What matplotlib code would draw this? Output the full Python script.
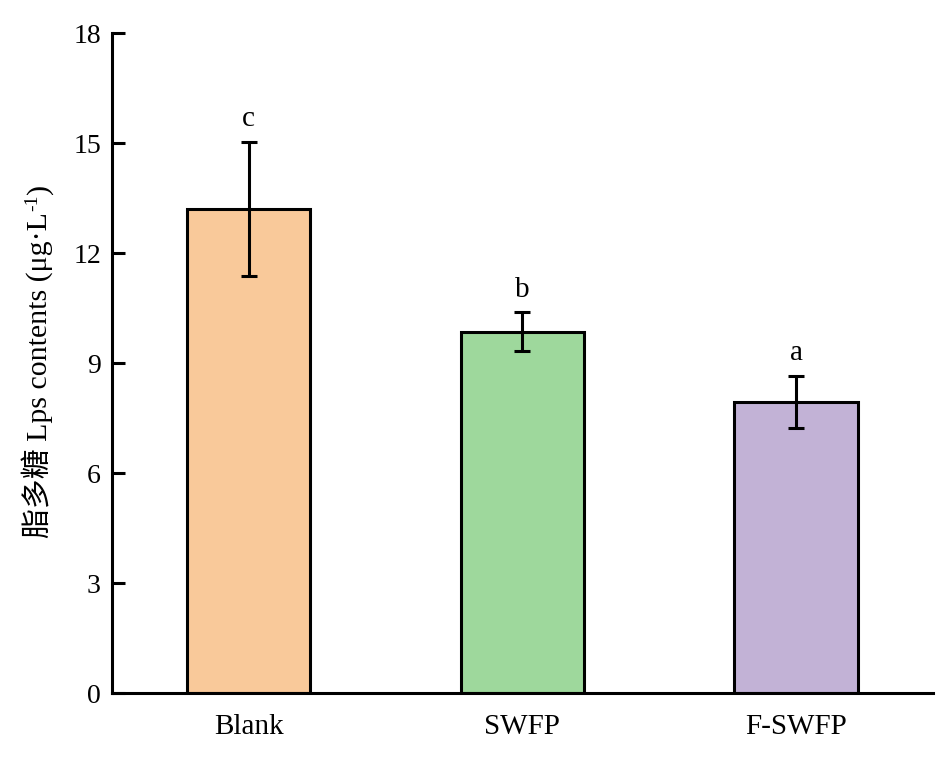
import numpy as np
import matplotlib
matplotlib.use("Agg")
import matplotlib.pyplot as plt

groups = ["Blank", "SWFP", "F-SWFP"]
means = [13.2, 9.85, 7.94]
errs = [1.83, 0.53, 0.70]
letters = ["c", "b", "a"]
colors = ["#F9C99A", "#9ED89C", "#C2B2D6"]

fonts = ['Liberation Serif', 'Noto Sans CJK SC']
plt.rcParams['font.family'] = fonts

fig = plt.figure(figsize=(9.49, 7.63), dpi=100)
ax = fig.add_axes([0.118, 0.0917, 0.865, 0.865])

x = np.arange(len(groups))
ax.bar(x, means, width=0.45, color=colors, edgecolor="black", linewidth=2.2,
       yerr=errs, error_kw=dict(ecolor="black", elinewidth=2.2, capsize=6, capthick=2.2),
       zorder=2)

for xi, m, e, l in zip(x, means, errs, letters):
    ax.text(xi, m + e + 0.27, l, ha="center", va="bottom", fontsize=21)

ax.set_xlim(-0.5, 2.5)
ax.set_ylim(0, 18)
ax.set_yticks([0, 3, 6, 9, 12, 15, 18])
ax.set_xticks(x)
ax.set_xticklabels(groups, fontsize=21)
ax.tick_params(axis="y", direction="in", length=9, width=2.2, labelsize=20, pad=8)
ax.tick_params(axis="x", length=0, pad=15)
ax.spines["top"].set_visible(False)
ax.spines["right"].set_visible(False)
ax.spines["left"].set_linewidth(2.2)
ax.spines["bottom"].set_linewidth(2.2)

# y label built from pieces so the CJK fallback works and -1 is a superscript
renderer = fig.canvas.get_renderer()
lab_x, lab_y = 47, 763 - 538
pieces = [("脂多糖 Lps contents (μg·L", 21.5, 0), ("-1", 14, -10), (")", 21.5, 0)]
for txt, fs, dx in pieces:
    t = fig.text(lab_x + dx, lab_y, txt, transform=None, rotation=90,
                 rotation_mode="anchor", ha="left", va="baseline",
                 fontsize=fs, family=fonts)
    bb = t.get_window_extent(renderer)
    lab_y = bb.y1 + 1

fig.savefig("out.png", dpi=100)
